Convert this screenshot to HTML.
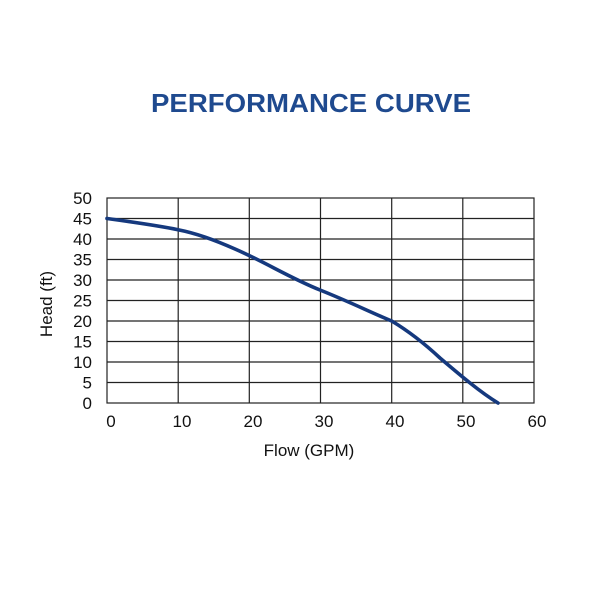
<!DOCTYPE html>
<html><head><style>
html,body{margin:0;padding:0;background:#fff;}
svg{display:block;font-family:"Liberation Sans",Arial,sans-serif;}
</style></head><body>
<svg width="600" height="600" viewBox="0 0 600 600">
<text x="311" y="112" text-anchor="middle" font-size="26" font-weight="bold" fill="#1f4a8f" textLength="320" lengthAdjust="spacingAndGlyphs">PERFORMANCE CURVE</text>
<g stroke="#222" stroke-width="1.2" fill="none">
<rect x="107" y="198" width="427" height="205"/>
<line x1="178.2" y1="198" x2="178.2" y2="403"/>
<line x1="249.3" y1="198" x2="249.3" y2="403"/>
<line x1="320.5" y1="198" x2="320.5" y2="403"/>
<line x1="391.7" y1="198" x2="391.7" y2="403"/>
<line x1="462.8" y1="198" x2="462.8" y2="403"/>
<line x1="107" y1="218.5" x2="534" y2="218.5"/>
<line x1="107" y1="239" x2="534" y2="239"/>
<line x1="107" y1="259.5" x2="534" y2="259.5"/>
<line x1="107" y1="280" x2="534" y2="280"/>
<line x1="107" y1="300.5" x2="534" y2="300.5"/>
<line x1="107" y1="321" x2="534" y2="321"/>
<line x1="107" y1="341.5" x2="534" y2="341.5"/>
<line x1="107" y1="362" x2="534" y2="362"/>
<line x1="107" y1="382.5" x2="534" y2="382.5"/>
</g>
<path d="M107,218.5 C140,223 165,227 178,229.7 C195,233 215,240 235,249 C265,262 290,278 320,290 C350,302 370,312 391.7,321 C410,332 425,344 440,358 C460,375 480,392 498,403" fill="none" stroke="#15397e" stroke-width="3.6" stroke-linecap="round"/>
<g font-size="17" fill="#111" text-anchor="end">
<text x="92" y="204">50</text><text x="92" y="224.5">45</text><text x="92" y="245">40</text>
<text x="92" y="265.5">35</text><text x="92" y="286">30</text><text x="92" y="306.5">25</text>
<text x="92" y="327">20</text><text x="92" y="347.5">15</text><text x="92" y="368">10</text>
<text x="92" y="388.5">5</text><text x="92" y="409">0</text>
</g>
<g font-size="17" fill="#111" text-anchor="middle">
<text x="111" y="427">0</text><text x="182" y="427">10</text><text x="253" y="427">20</text>
<text x="324" y="427">30</text><text x="395" y="427">40</text><text x="466" y="427">50</text>
<text x="537" y="427">60</text>
<text x="309" y="456">Flow (GPM)</text>
<text transform="translate(52,304) rotate(-90)">Head (ft)</text>
</g>
</svg>
</body></html>
